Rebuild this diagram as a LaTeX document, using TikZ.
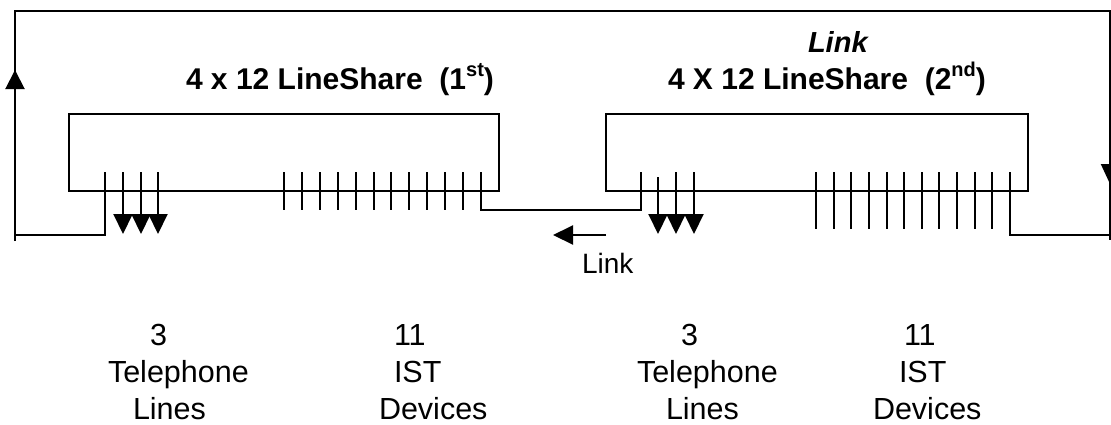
\documentclass[tikz,border=0pt]{standalone}
\usepackage{fontspec}
\setmainfont{Liberation Sans}
\usetikzlibrary{arrows.meta}
\begin{document}
\begin{tikzpicture}[x=1pt,y=-1pt, line width=2pt,
  wire/.style={line width=2pt, line join=miter},
  pintip/.style={-{Triangle[length=20pt,width=19pt]}},
  board/.style={draw, line width=2pt, rectangle, inner sep=0pt},
  title/.style={font=\fontsize{30}{36}\selectfont\bfseries, anchor=base west, inner sep=0pt},
  lbl/.style={font=\fontsize{30.5}{36}\selectfont, anchor=base west, inner sep=0pt}]
\useasboundingbox (0,0) rectangle (1111,424);

% boards
\node[board, minimum width=430pt, minimum height=77pt] (b1) at (284,152.5) {};
\node[board, minimum width=422pt, minimum height=77pt] (b2) at (817,152.5) {};

% titles
\node[title] (t1) at (185,89) {4 x 12 LineShare\ \ (1\raisebox{13pt}{\fontsize{20}{20}\selectfont st})};
\node[title, font=\fontsize{29}{35}\selectfont\bfseries\itshape] (tl) at (807,52) {Link};
\node[title] (t2) at (667,89) {4 X 12 LineShare\ \ (2\raisebox{13pt}{\fontsize{20}{20}\selectfont nd})};

% pins board 1
\foreach \x in {123,141,158} \draw[wire, pintip] (\x,172) -- (\x,234);
\foreach \i in {0,...,11} \draw[wire] ({284+\i*17.9},172) -- ({284+\i*17.9},210);
% pins board 2
\draw[wire, pintip] (658,177) -- (658,234);
\foreach \x in {676,694} \draw[wire, pintip] (\x,172) -- (\x,234);
\foreach \i in {0,...,10} \draw[wire] ({816+\i*17.64},172) -- ({816+\i*17.64},229);

% loop connectors
\coordinate (p1) at (105,172);
\coordinate (bl) at (15,235);
\coordinate (blx) at (15,241);
\coordinate (tl0) at (15,11);
\coordinate (tr0) at (1110,11);
\coordinate (brx) at (1110,240);
\coordinate (br) at (1110,235);
\coordinate (q12) at (1010,172);
\coordinate (l1) at (481,172);
\coordinate (l2) at (641,172);
\coordinate (la) at (553,235);
\coordinate (lb) at (606,235);

\draw[wire] (p1) |- (bl);
\draw[wire, -{Triangle[length=19pt,width=19pt]}] (blx) -- (15,70);
\draw[wire] (15,80) -- (tl0) -- (tr0) -- (1110,170);
\draw[wire, -{Triangle[length=20pt,width=18pt]}] (1110,150) -- (1110,184);
\draw[wire] (1110,180) -- (brx);
\draw[wire] (q12) |- (br);
\draw[wire] (l1) -- (481,210) -- (641,210) -- (l2);
\draw[wire, -{Triangle[length=20pt,width=19pt]}] (lb) -- (la);

\node[lbl, font=\fontsize{28}{34}\selectfont] (ll) at (581,273) {Link};

% bottom labels
\node[lbl] (n3a) at (149,345) {3};
\node[lbl] (tela) at (107,382) {Telephone};
\node[lbl] (lina) at (132,419) {Lines};
\node[lbl] (n11a) at (393,345) {11};
\node[lbl] (ista) at (393,382) {IST};
\node[lbl] (deva) at (378,419) {Devices};
\node[lbl] (n3b) at (680,345) {3};
\node[lbl] (telb) at (636,382) {Telephone};
\node[lbl] (linb) at (665,419) {Lines};
\node[lbl] (n11b) at (903,345) {11};
\node[lbl] (istb) at (898,382) {IST};
\node[lbl] (devb) at (872,419) {Devices};
\end{tikzpicture}
\end{document}
